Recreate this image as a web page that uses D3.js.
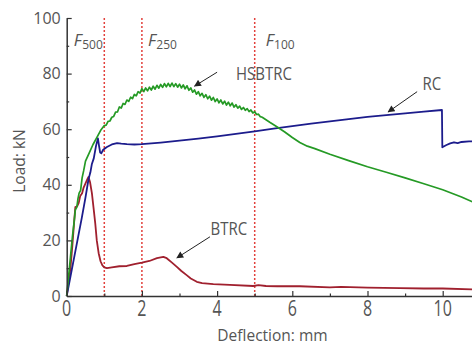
<!DOCTYPE html>
<html>
<head>
<meta charset="utf-8">
<script src="https://cdn.jsdelivr.net/npm/d3@7"></script>
<style>
  body { margin: 0; background: #fff; }
  svg { font-family: "Open Sans", "Noto Sans", sans-serif; }
  .tick-label { fill: #555; }
</style>
</head>
<body>
<div id="wrapper"></div>
<script>
// deflection (mm), load (kN)
const rcCurve = [
  [0,0],[0.1,7],[0.2,14],[0.3,21],[0.4,28],[0.5,35.5],[0.58,42],[0.63,44.5],[0.67,47.5],
  [0.72,49.5],[0.78,54],[0.83,56.7],[0.86,54],[0.89,51.6],[0.92,51.3],[0.97,52.6],[1.07,53.6],
  [1.2,54.5],[1.34,55],[1.45,54.8],[1.6,54.6],[1.8,54.5],[2.0,54.6],[2.5,55.2],[3.0,55.9],
  [3.5,56.6],[4.0,57.4],[4.5,58.3],[5.0,59.2],[5.5,60.2],[6.0,61.1],[6.5,62.0],[7.0,62.8],
  [7.5,63.6],[8.0,64.4],[8.5,65.1],[9.0,65.7],[9.5,66.3],[9.98,66.9],[9.99,53.5],[10.1,54.3],
  [10.2,54.9],[10.3,55.3],[10.4,55.0],[10.5,55.4],[10.7,55.6],[11,55.8]
];

const hsbtrcCurve = [
  [0,0],[0.05,7],[0.1,14],[0.15,21],[0.2,27],[0.23,31],[0.27,32],[0.3,35],[0.33,37],[0.37,38],
  [0.41,42.5],[0.45,45],[0.5,48.5],[0.6,51.5],[0.7,54.5],[0.8,57],[0.9,59.5],
  [1.00,61.3],[1.05,61.45],[1.10,62.8],[1.15,62.95],[1.20,64.3],[1.25,64.6],[1.30,66.15],[1.35,66.2],
  [1.40,68.0],[1.45,67.6],[1.50,69.25],[1.55,68.9],[1.60,70.5],[1.65,70.0],[1.70,71.5],[1.75,71.0],
  [1.80,72.5],[1.85,72.0],[1.90,73.5],[1.95,73.0],[2.00,74.6],[2.05,73.5],[2.10,74.85],[2.15,73.8],
  [2.20,75.1],[2.25,74.1],[2.30,75.45],[2.35,74.4],[2.40,75.8],[2.45,74.75],[2.50,76.1],[2.55,75.05],
  [2.60,76.4],[2.65,75.25],[2.70,76.5],[2.75,75.35],[2.80,76.6],[2.85,75.3],[2.90,76.4],[2.95,75.1],
  [3.00,76.2],[3.05,74.85],[3.10,75.9],[3.15,74.55],[3.20,75.6],[3.25,74.0],[3.30,74.85],[3.35,73.3],
  [3.40,74.1],[3.45,72.6],[3.50,73.5],[3.55,72.0],[3.60,72.9],[3.65,71.45],[3.70,72.4],[3.75,70.95],
  [3.80,71.9],[3.85,70.45],[3.90,71.4],[3.95,69.95],[4.00,70.9],[4.05,69.5],[4.10,70.5],[4.15,69.1],
  [4.20,70.1],[4.25,68.7],[4.30,69.75],[4.35,68.4],[4.40,69.4],[4.45,67.95],[4.50,68.8],[4.55,67.55],
  [4.60,68.3],[4.65,67.1],[4.70,67.8],[4.75,66.8],[4.80,67.4],[4.85,66.35],[4.90,66.9],[4.95,65.85],
  [5.00,66.3],[5.05,65.3],[5.10,65.4],[5.15,64.5],[5.20,64.3],
  [5.3,63.4],[5.4,62.5],[5.6,60.8],[5.8,59],[6.0,57],[6.2,55.2],[6.4,53.9],[6.6,53],[7.0,51],
  [7.5,48.7],[8.0,46.5],[8.5,44.5],[9.0,42.5],[9.5,40.4],[10.0,38.2],[10.5,35.6],[10.8,33.8],[11,32.5]
];

const btrcCurve = [
  [0,0],[0.05,5],[0.1,10],[0.15,18],[0.2,27],[0.23,32],[0.28,32.3],[0.32,33.5],[0.36,36],
  [0.41,37],[0.45,39],[0.5,40.5],[0.55,42],[0.58,42.8],[0.62,41],[0.67,37],[0.72,31],[0.76,26],
  [0.8,20],[0.85,15.4],[0.9,12.5],[0.95,11],[1.0,10.3],[1.07,10],[1.2,10.3],[1.4,10.7],[1.6,10.8],
  [1.8,11.5],[2.0,12],[2.2,12.6],[2.4,13.6],[2.57,14.1],[2.66,13.6],[2.8,12],[2.93,10.5],[3.05,9],
  [3.19,7.5],[3.3,6.3],[3.46,5.1],[3.6,4.6],[3.9,4.3],[4.34,4],[4.96,3.6],[5.1,3.9],[5.3,3.6],
  [5.6,3.5],[6.2,3.5],[7.0,3.1],[7.3,3.3],[8.0,3.0],[8.87,2.8],[9.5,2.7],[10.0,2.7],[10.78,2.4],[11,2.4]
];

const xMajorTicks = [0, 2, 4, 6, 8, 10];
const xMinorTicks = [1, 3, 5, 7, 9, 11];
const yMajorTicks = [0, 20, 40, 60, 80, 100];
const yMinorTicks = [10, 30, 50, 70, 90];

const limitLines = [1, 2, 5];
const limitNames = ['F', 'F', 'F'];
const limitSubs = ['500', '250', '100'];

const seriesNames = ['HSBTRC', 'RC', 'BTRC'];

const W = 472, H = 344;

const svg = d3.select('#wrapper')
    .append('svg')
    .attr('width', W)
    .attr('height', H);

const x = d3.scaleLinear().domain([0, 12]).range([66.7, 66.7 + 37.6 * 12]);
const y = d3.scaleLinear().domain([0, 100]).range([296, 18]);

const line = d3.line()
    .x(function (d) { return x(d[0]) })
    .y(function (d) { return y(d[1]) });

// limit lines
svg.append('g')
    .selectAll('line')
    .data(limitLines)
    .enter()
    .append('line')
    .attr('x1', function (d) { return x(d) })
    .attr('x2', function (d) { return x(d) })
    .attr('y1', y(100))
    .attr('y2', y(0))
    .style('stroke', '#e2413c')
    .style('stroke-width', 1.5)
    .style('stroke-dasharray', '2,2');

// curves
const curves = [
    { data: btrcCurve, color: '#a0202e', w: 1.8 },
    { data: rcCurve, color: '#1c1c8c', w: 1.8 },
    { data: hsbtrcCurve, color: '#259a25', w: 1.7 }
];
svg.append('g')
    .selectAll('path')
    .data(curves)
    .enter()
    .append('path')
    .attr('d', function (d) { return line(d.data) })
    .style('fill', 'none')
    .style('stroke', function (d) { return d.color })
    .style('stroke-width', function (d) { return d.w })
    .style('stroke-linejoin', 'round');

// axes
svg.append('g')
    .attr('transform', 'translate(0,' + y(0) + ')')
    .call(d3.axisBottom(x).tickValues(xMajorTicks).tickSizeInner(-5).tickSizeOuter(0).tickFormat(''));
svg.append('g')
    .attr('transform', 'translate(0,' + y(0) + ')')
    .call(d3.axisBottom(x).tickValues(xMinorTicks).tickSizeInner(-2.5).tickSizeOuter(0).tickFormat(''))
    .select('.domain').remove();

const yAxis = svg.append('g')
    .attr('transform', 'translate(' + x(0) + ',0)')
    .call(d3.axisLeft(y).tickValues(yMajorTicks).tickSizeInner(-5).tickSizeOuter(0).tickPadding(6));
svg.append('g')
    .attr('transform', 'translate(' + x(0) + ',0)')
    .call(d3.axisLeft(y).tickValues(yMinorTicks).tickSizeInner(-2.5).tickSizeOuter(0).tickFormat(''))
    .select('.domain').remove();

svg.selectAll('.domain').style('stroke', '#333').style('stroke-width', 1.5);
svg.selectAll('.tick line').style('stroke', '#333').style('stroke-width', 1.2);

yAxis.selectAll('.tick text')
    .attr('class', 'tick-label')
    .style('font-size', '16px')
    .style('font-family', '"Open Sans", sans-serif');

// x tick labels (drawn a little taller, as in the picture)
svg.append('g')
    .selectAll('text')
    .data(xMajorTicks)
    .enter()
    .append('text')
    .attr('class', 'tick-label')
    .attr('text-anchor', 'middle')
    .attr('transform', function (d) { return 'translate(' + x(d) + ',315.5) scale(1,1.35)' })
    .style('font-size', '16px')
    .text(function (d) { return d });

// axis titles
svg.append('text')
    .attr('transform', 'translate(25,161) rotate(-90)')
    .attr('text-anchor', 'middle')
    .style('font-size', '15.5px')
    .style('fill', '#555')
    .text('Load: kN');

svg.append('text')
    .attr('x', 272.5)
    .attr('y', 340.5)
    .attr('text-anchor', 'middle')
    .style('font-size', '15.5px')
    .style('fill', '#555')
    .text('Deflection: mm');

// F labels
const fOffsets = [-30.5, 6, 11];
const fLabels = svg.append('g')
    .selectAll('text')
    .data(limitLines)
    .enter()
    .append('text')
    .attr('x', function (d, i) { return x(d) + fOffsets[i] })
    .attr('y', 46)
    .style('fill', '#555')
    .style('font-size', '16.5px');
fLabels.append('tspan')
    .style('font-style', 'italic')
    .text(function (d, i) { return limitNames[i] });
fLabels.append('tspan')
    .attr('dy', 2.5)
    .attr('dx', 0.5)
    .style('font-size', '12px')
    .text(function (d, i) { return limitSubs[i] });

// arrows + curve labels
svg.append('defs').append('marker')
    .attr('id', 'head')
    .attr('viewBox', '0 0 10 10')
    .attr('refX', 9)
    .attr('refY', 5)
    .attr('markerWidth', 8)
    .attr('markerHeight', 7)
    .attr('markerUnits', 'userSpaceOnUse')
    .attr('orient', 'auto')
    .append('path')
    .attr('d', 'M0,0L10,5L0,10z')
    .style('fill', '#222');

const notes = [
    { name: seriesNames[0], tx: 236, ty: 80, from: [4.0, 80.5], to: [3.4, 75.5] },
    { name: seriesNames[1], tx: 422.5, ty: 89.5, from: [9.32, 73.5], to: [8.55, 66.2] },
    { name: seriesNames[2], tx: 210.5, ty: 235, from: [3.81, 21.3], to: [2.93, 13.7] }
];

svg.append('g')
    .selectAll('line')
    .data(notes)
    .enter()
    .append('line')
    .attr('x1', function (d) { return x(d.from[0]) })
    .attr('y1', function (d) { return y(d.from[1]) })
    .attr('x2', function (d) { return x(d.to[0]) })
    .attr('y2', function (d) { return y(d.to[1]) })
    .style('stroke', '#222')
    .style('stroke-width', 1)
    .attr('marker-end', 'url(#head)');

svg.append('g')
    .selectAll('text')
    .data(notes)
    .enter()
    .append('text')
    .attr('transform', function (d) { return 'translate(' + d.tx + ',' + d.ty + ') scale(1,1.2)' })
    .style('font-size', '15px')
    .style('fill', '#555')
    .text(function (d) { return d.name });
</script>
</body>
</html>
